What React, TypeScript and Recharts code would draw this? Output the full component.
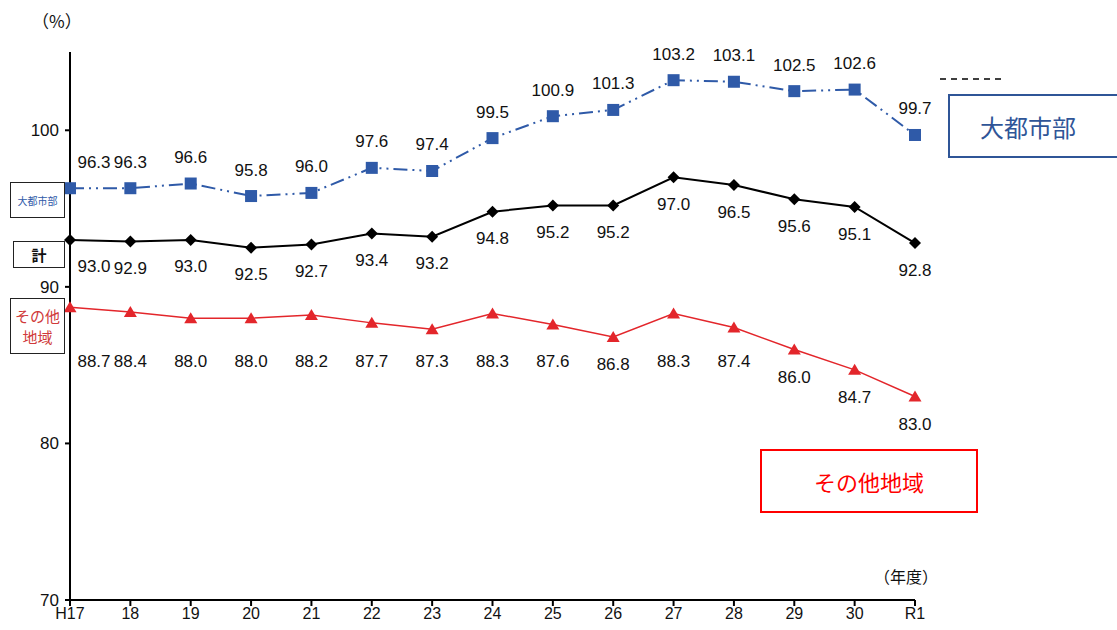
import React from 'react';
import { LineChart, Line, XAxis, YAxis, LabelList } from 'recharts';

const years = ['H17', '18', '19', '20', '21', '22', '23', '24', '25', '26', '27', '28', '29', '30', 'R1'];
const metro = [96.3, 96.3, 96.6, 95.8, 96.0, 97.6, 97.4, 99.5, 100.9, 101.3, 103.2, 103.1, 102.5, 102.6, 99.7];
const total = [93.0, 92.9, 93.0, 92.5, 92.7, 93.4, 93.2, 94.8, 95.2, 95.2, 97.0, 96.5, 95.6, 95.1, 92.8];
const others = [88.7, 88.4, 88.0, 88.0, 88.2, 87.7, 87.3, 88.3, 87.6, 86.8, 88.3, 87.4, 86.0, 84.7, 83.0];
const yTicks = [70, 80, 90, 100];

const data = years.map((y, i) => ({ year: y, metro: metro[i], total: total[i], others: others[i] }));

const FONT = '"Noto Sans CJK JP", "Liberation Sans", sans-serif';
const NUM_FONT = '"Liberation Sans", Arial, sans-serif';
const BLUE = '#2f5aa8';
const RED = '#e3262b';

const SquareDot = (props: any) => {
  const { cx, cy } = props;
  if (cx == null || cy == null) return null;
  return <rect x={cx - 6} y={cy - 6} width={12} height={12} fill={BLUE} />;
};

const DiamondDot = (props: any) => {
  const { cx, cy } = props;
  if (cx == null || cy == null) return null;
  return <path d={`M${cx},${cy - 6} L${cx + 6},${cy} L${cx},${cy + 6} L${cx - 6},${cy} Z`} fill="#000" />;
};

const TriangleDot = (props: any) => {
  const { cx, cy } = props;
  if (cx == null || cy == null) return null;
  return <path d={`M${cx},${cy - 6} L${cx + 6.5},${cy + 5} L${cx - 6.5},${cy + 5} Z`} fill={RED} />;
};

// value labels; the first point's label sits a bit right of the axis
const makeLabel = (place: (y: number) => number) => (props: any) => {
  const { x, y, value, index } = props;
  const shift = index === 0 ? 24 : 0;
  return (
    <text x={x + shift} y={place(y)} textAnchor="middle" dominantBaseline="central"
      fontSize={17} fontFamily={NUM_FONT} fill="#111">
      {Number(value).toFixed(1)}
    </text>
  );
};

const boxText: React.CSSProperties = {
  position: 'absolute',
  boxSizing: 'border-box',
  display: 'flex',
  alignItems: 'center',
  justifyContent: 'center',
  fontFamily: FONT,
  background: '#fff',
};

export default function App() {
  return (
    <div style={{ position: 'absolute', left: 0, top: 0, width: 1117, height: 630, background: '#fff', overflow: 'hidden' }}>
      <LineChart width={1117} height={630} data={data} margin={{ top: 52, right: 202, bottom: 0, left: 20 }}>
        <XAxis
          dataKey="year"
          height={30}
          padding={{ left: 0, right: 0 }}
          axisLine={{ stroke: '#000', strokeWidth: 2 }}
          tickLine={{ stroke: '#000', strokeWidth: 2 }}
          tickSize={6}
          tick={{ fontSize: 16, fill: '#111', fontFamily: NUM_FONT }}
          interval={0}
        />
        <YAxis
          width={50}
          domain={[70, 105]}
          ticks={yTicks}
          allowDataOverflow
          axisLine={{ stroke: '#000', strokeWidth: 2 }}
          tickLine={{ stroke: '#000', strokeWidth: 2 }}
          tickSize={5}
          tick={{ fontSize: 17, fill: '#111', fontFamily: NUM_FONT, dx: -4 }}
        />
        <Line dataKey="total" stroke="#000" strokeWidth={2} dot={<DiamondDot />} isAnimationActive={false}>
          <LabelList dataKey="total" content={makeLabel((y) => y + 27)} />
        </Line>
        <Line dataKey="others" stroke={RED} strokeWidth={1.5} dot={<TriangleDot />} isAnimationActive={false}>
          <LabelList dataKey="others" content={makeLabel((y) => Math.max(y + 28, 361))} />
        </Line>
        <Line dataKey="metro" stroke={BLUE} strokeWidth={2} strokeDasharray="14 5 2 5 2 5"
          dot={<SquareDot />} isAnimationActive={false}>
          <LabelList dataKey="metro" content={makeLabel((y) => y - 26)} />
        </Line>
      </LineChart>

      <div style={{ position: 'absolute', left: 32, top: 8, fontSize: 17, fontFamily: FONT, color: '#111' }}>（%）</div>
      <div style={{ position: 'absolute', left: 874, top: 564, fontSize: 16, fontFamily: FONT, color: '#111' }}>（年度）</div>

      <div style={{ ...boxText, left: 10, top: 182, width: 55, height: 36, border: '1.5px solid #222', color: BLUE, fontSize: 10 }}>大都市部</div>
      <div style={{ ...boxText, left: 13, top: 241, width: 52, height: 27, border: '1.5px solid #222', color: '#111', fontSize: 15, fontWeight: 700 }}>計</div>
      <div style={{ ...boxText, left: 10, top: 298, width: 55, height: 56, border: '1.5px solid #222', color: '#d03a3a', fontSize: 15, lineHeight: '21px', textAlign: 'center', flexDirection: 'column' }}>
        <span>その他</span>
        <span>地域</span>
      </div>

      <svg style={{ position: 'absolute', left: 938, top: 74 }} width={70} height={10}>
        <line x1={2} y1={5} x2={64} y2={5} stroke="#000" strokeWidth={1.5} strokeDasharray="6 5" />
      </svg>
      <div style={{ ...boxText, left: 948, top: 94, width: 180, height: 64, border: `2px solid #2f5597`, color: '#2f5597', fontSize: 24, justifyContent: 'flex-start', paddingLeft: 30 }}>大都市部</div>
      <div style={{ ...boxText, left: 760, top: 449, width: 218, height: 64, border: '2px solid #ff0000', color: '#ff0000', fontSize: 22 }}>その他地域</div>
    </div>
  );
}
